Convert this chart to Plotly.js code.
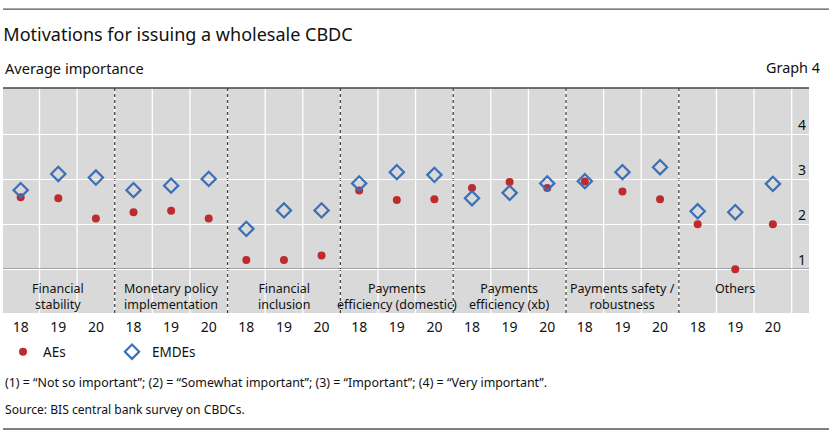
<!DOCTYPE html>
<html><head><meta charset="utf-8">
<script src="https://cdn.plot.ly/plotly-3.0.1.min.js"></script>
<style>html,body{margin:0;padding:0;background:#fff;}#chart{width:831px;height:435px;}</style>
</head><body><div id="chart"></div>
<script>
const categories = ["Financial<br>stability","Monetary policy<br>implementation","Financial<br>inclusion","Payments<br>efficiency (domestic)","Payments<br>efficiency (xb)","Payments safety /<br>robustness","Others"];
const years = ["18","19","20"];
const aes   = [2.60,2.58,2.13, 2.27,2.30,2.13, 1.21,1.21,1.31, 2.75,2.54,2.56, 2.81,2.94,2.81, 2.95,2.73,2.56, 2.00,1.00,2.00];
const emdes = [2.76,3.12,3.04, 2.76,2.86,3.01, 1.90,2.31,2.31, 2.91,3.16,3.10, 2.58,2.70,2.91, 2.96,3.16,3.27, 2.29,2.27,2.90];
const yTicks = [1,2,3,4];
const seriesNames = ["AEs","EMDEs"];

const FONT = "Noto Sans, Open Sans, sans-serif";
const xs = [], tickText = [];
categories.forEach((c,g)=>years.forEach((y,k)=>{xs.push(g*years.length+k); tickText.push(y);}));
const n = xs.length;

const traces = [
  {x: xs, y: aes, name: seriesNames[0], type:'scatter', mode:'markers',
   marker:{symbol:'circle', size:8, color:'#bf2a2d'}},
  {x: xs, y: emdes, name: seriesNames[1], type:'scatter', mode:'markers',
   marker:{symbol:'diamond-open', size:11, color:'#3b6fb6', line:{width:2.2, color:'#3b6fb6'}}}
];

const shapes = [];
for (let i=0;i<n;i++){
  shapes.push({type:'line', xref:'x', yref:'paper', x0:i+0.5, x1:i+0.5, y0:0, y1:1, line:{color:'#ffffff', width:1.3}, layer:'below'});
}
for (let g=1; g<categories.length; g++){
  const xv = g*years.length-0.5;
  shapes.push({type:'line', xref:'x', yref:'paper', x0:xv, x1:xv, y0:0, y1:1, line:{color:'#444', width:1.3, dash:'dot'}, layer:'below'});
}
shapes.push({type:'line', xref:'paper', yref:'y', x0:0, x1:1, y0:1, y1:1, line:{color:'#000', width:1.3}, layer:'below'});
shapes.push({type:'line', xref:'paper', yref:'paper', x0:0, x1:1, y0:1, y1:1, line:{color:'#444', width:1.5}});
shapes.push({type:'line', xref:'paper', yref:'paper', x0:0, x1:1.0248, y0:1.351, y1:1.351, line:{color:'#555', width:1.3}});
shapes.push({type:'line', xref:'paper', yref:'paper', x0:0, x1:1.0248, y0:-0.5156, y1:-0.5156, line:{color:'#555', width:1.3}});

const annotations = categories.map((c,g)=>({
  xref:'x', yref:'y', x:g*years.length+1, y:1-(277.5-269.3)/45, text:c, showarrow:false,
  xanchor:'center', yanchor:'top', align:'center', font:{family:FONT, size:12.5, color:'#111'}
}));
annotations.push({xref:'paper', yref:'paper', x:0.0, y:1.089, text:'Average importance', showarrow:false, xanchor:'left', yanchor:'middle', font:{family:FONT, size:14.6, color:'#111'}});
annotations.push({xref:'paper', yref:'paper', x:1.016, y:1.089, text:'Graph 4', showarrow:false, xanchor:'right', yanchor:'middle', font:{family:FONT, size:14.4, color:'#111'}});
annotations.push({xref:'paper', yref:'paper', x:0.0, y:-0.311, text:'(1) = “Not so important”; (2) = “Somewhat important”; (3) = “Important”; (4) = “Very important”.', showarrow:false, xanchor:'left', yanchor:'middle', font:{family:FONT, size:12.4, color:'#111'}});
annotations.push({xref:'paper', yref:'paper', x:0.0, y:-0.431, text:'Source: BIS central bank survey on CBDCs.', showarrow:false, xanchor:'left', yanchor:'middle', font:{family:FONT, size:12.1, color:'#111'}});

const layout = {
  width:831, height:435,
  margin:{l:3, r:22, t:88, b:122},
  paper_bgcolor:'#ffffff', plot_bgcolor:'#d9d9d9',
  font:{family:FONT, color:'#111'},
  title:{text:'Motivations for issuing a wholesale CBDC', x:0.004, xanchor:'left', xref:'container', y:1-35/435, yanchor:'middle', yref:'container', font:{family:FONT, size:18, color:'#111'}},
  xaxis:{range:[-0.47,20.96], tickvals:xs, ticktext:tickText, showgrid:false, zeroline:false, showline:false, ticks:'', ticklabelstandoff:4, tickfont:{family:FONT, size:14, color:'#111'}, fixedrange:true},
  yaxis:{range:[0.03,5.03], tickvals:yTicks, side:'right', ticklabelposition:'inside', ticklabelshift:-9, showgrid:true, gridcolor:'#ffffff', gridwidth:1.3, zeroline:false, showline:false, ticks:'', tickfont:{family:FONT, size:14, color:'#111'}, fixedrange:true},
  showlegend:true,
  legend:{orientation:'h', x:0, xanchor:'left', y:-0.173, yanchor:'middle', font:{family:FONT, size:13.5, color:'#111'}, entrywidth:64, bgcolor:'rgba(0,0,0,0)'},
  shapes: shapes,
  annotations: annotations
};
Plotly.newPlot('chart', traces, layout, {displayModeBar:false, staticPlot:true});
</script></body></html>
